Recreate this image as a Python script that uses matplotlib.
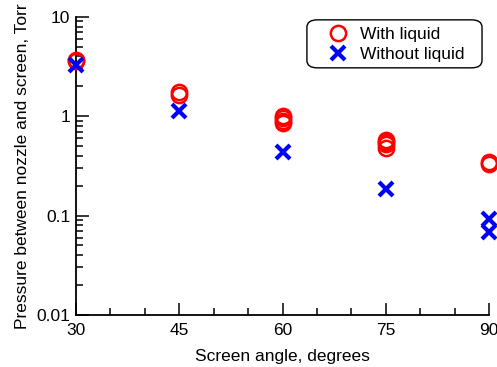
import matplotlib
matplotlib.use('Agg')
import matplotlib.pyplot as plt
from matplotlib.patches import FancyBboxPatch
from matplotlib.ticker import MultipleLocator, LogLocator, NullFormatter, FixedLocator, FixedFormatter

plt.rcParams['font.family'] = ['Liberation Sans', 'DejaVu Sans']

# data
angle_liquid = [30, 30, 45, 45, 60, 60, 60, 60, 75, 75, 75, 75, 90, 90]
p_liquid = [3.7, 3.6, 1.62, 1.75, 0.85, 0.9, 0.95, 1.0, 0.48, 0.52, 0.55, 0.58, 0.33, 0.345]

angle_dry = [30, 45, 60, 75, 90, 90]
p_dry = [3.3, 1.13, 0.44, 0.183, 0.092, 0.068]

xticks = [30, 45, 60, 75, 90]
yticks = [0.01, 0.1, 1, 10]
ylabels = ['0.01', '0.1', '1', '10']

fs = 12.5

fig = plt.figure(figsize=(4.97, 3.67), dpi=100)
ax = fig.add_axes([0.153, 0.142, 0.831, 0.812])

ax.plot(angle_liquid, p_liquid, 'o', ms=11, mfc='none', mec='red', mew=1.8,
        clip_on=False, label='With liquid', zorder=3)
ax.plot(angle_dry, p_dry, 'x', ms=10, mec='blue', mew=3,
        clip_on=False, label='Without liquid', zorder=4)

ax.set_yscale('log')
ax.set_xlim(30, 90)
ax.set_ylim(0.01, 10)

ax.xaxis.set_major_locator(FixedLocator(xticks))
ax.xaxis.set_minor_locator(MultipleLocator(5))
ax.yaxis.set_major_locator(FixedLocator(yticks))
ax.yaxis.set_major_formatter(FixedFormatter(ylabels))
ax.yaxis.set_minor_locator(LogLocator(base=10, subs=range(2, 10)))
ax.yaxis.set_minor_formatter(NullFormatter())

for s in ['top', 'right']:
    ax.spines[s].set_visible(False)
for s in ['left', 'bottom']:
    ax.spines[s].set_linewidth(1.3)

ax.tick_params(which='both', direction='in', labelsize=fs, width=1.1, colors='black')
ax.tick_params(which='major', length=9, pad=4)
ax.tick_params(which='minor', length=5)
ax.tick_params(axis='x', pad=6)

ax.set_xlabel('Screen angle, degrees', fontsize=fs, labelpad=8)
ax.set_ylabel('Pressure between nozzle and screen, Torr', fontsize=fs, labelpad=5)

# legend entries without frame, rounded box drawn separately
leg = ax.legend(loc='upper left', bbox_to_anchor=(0.613, 0.967), fontsize=fs,
                frameon=False, handlelength=1.0, handletextpad=0.75,
                borderpad=0, borderaxespad=0, labelspacing=0.27)
box = FancyBboxPatch((0.559, 0.829), 0.424, 0.161, transform=ax.transAxes,
                     boxstyle='round,pad=0,rounding_size=0.025',
                     fc='white', ec='black', lw=1.0, zorder=5, clip_on=False)
ax.add_patch(box)
leg.set_zorder(6)

fig.savefig('out.png', dpi=100)
